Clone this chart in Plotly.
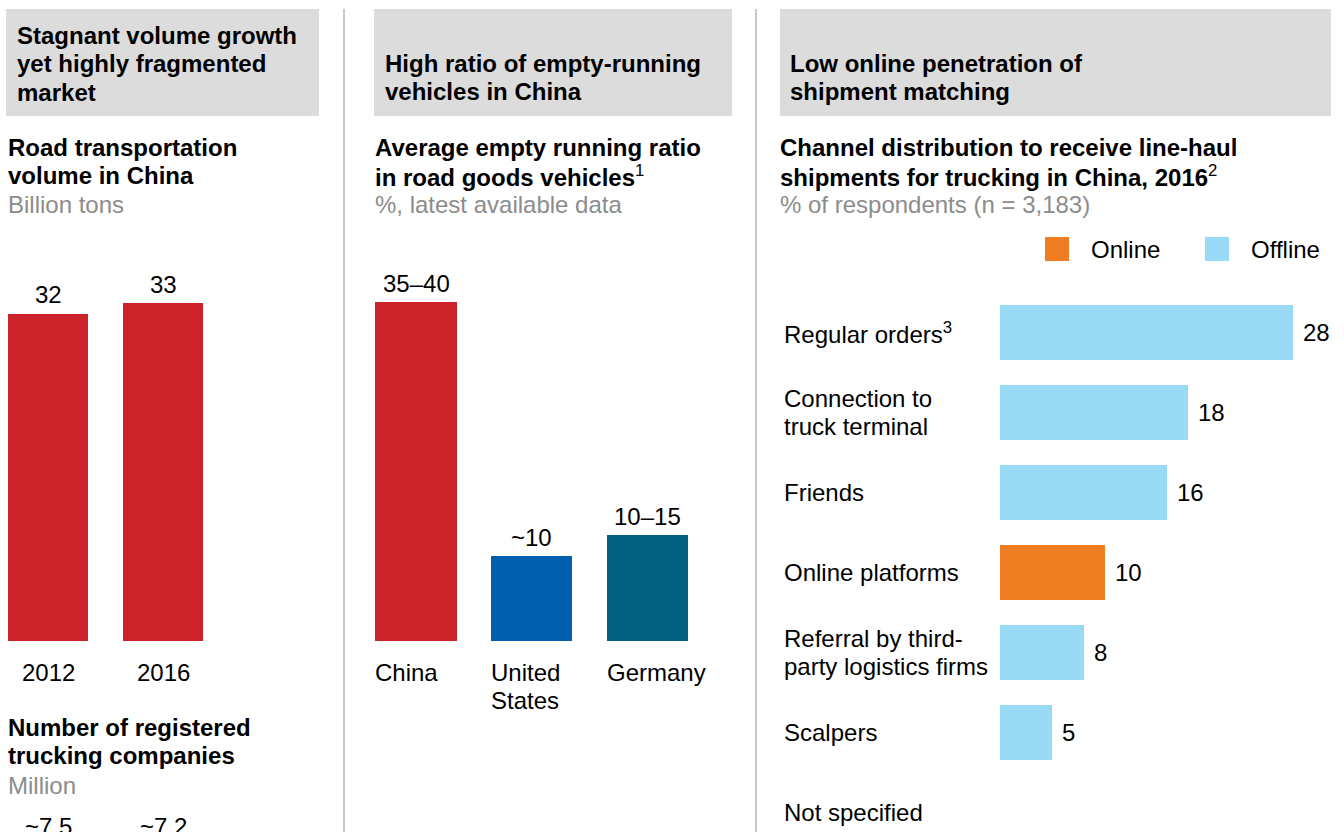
import plotly.graph_objects as go

W, H = 1344, 832
FONT = "Arial, 'Liberation Sans', sans-serif"

# ---- Panel 1: road transportation volume (billion tons) ----
volume_years = ["2012", "2016"]
volume_values = [32, 33]
volume_labels = ["32", "33"]

# Registered trucking companies (million)
company_values = [7.5, 7.2]
company_labels = ["~7.5", "~7.2"]

# ---- Panel 2: average empty running ratio (%) ----
ratio_countries = ["China", "United States", "Germany"]
ratio_tick_lines = [["China"], ["United", "States"], ["Germany"]]
ratio_values = [40, 10, 12.5]
ratio_labels = ["35–40", "~10", "10–15"]
ratio_colors = ["#CC2229", "#0060AE", "#02617E"]

# ---- Panel 3: channel distribution (% of respondents) ----
channel_keys = ["Regular orders", "Connection to truck terminal", "Friends",
                "Online platforms", "Referral by third-party logistics firms",
                "Scalpers", "Not specified"]
channel_tick_lines = [["Regular orders<sup>3</sup>"], ["Connection to", "truck terminal"],
                      ["Friends"], ["Online platforms"],
                      ["Referral by third-", "party logistics firms"],
                      ["Scalpers"], ["Not specified"]]
channel_values = [28, 18, 16, 10, 8, 5, None]
channel_type = ["Offline", "Offline", "Offline", "Online", "Offline", "Offline", None]
type_colors = {"Online": "#EF7D22", "Offline": "#99DBF5", None: "#FFFFFF"}

RED = "#CC2229"
GREY_BOX = "#DCDCDC"
GREY_TEXT = "#8C8C8C"
LINE_PITCH = 28.5


def px_x(x):
    return x / W


def px_y(y):
    return 1 - y / H


fig = go.Figure()

fig.add_trace(go.Bar(x=volume_years, y=volume_values, marker=dict(color=RED, line=dict(width=0)),
                     width=0.696, xaxis="x", yaxis="y", hoverinfo="skip"))
fig.add_trace(go.Bar(x=ratio_countries, y=ratio_values, marker=dict(color=ratio_colors, line=dict(width=0)),
                     width=0.70, xaxis="x2", yaxis="y2", hoverinfo="skip"))
fig.add_trace(go.Bar(y=channel_keys, x=channel_values, orientation="h",
                     marker=dict(color=[type_colors[t] for t in channel_type], line=dict(width=0)),
                     width=0.6875, xaxis="x3", yaxis="y3", hoverinfo="skip"))

ann = []
shapes = []


def text(x, y, t, size=24, bold=False, color="#000000", xanchor="left", xref="paper", yref="paper",
         xshift=0, yshift=0):
    ann.append(dict(x=x, y=y, xref=xref, yref=yref, text=f"<b>{t}</b>" if bold else t,
                    showarrow=False, xanchor=xanchor, yanchor="middle", xshift=xshift, yshift=yshift,
                    borderpad=0, borderwidth=0, font=dict(family=FONT, size=size, color=color)))


def text_block(x_px, y_px, lines, **kw):
    for i, line in enumerate(lines):
        text(px_x(x_px), px_y(y_px + i * LINE_PITCH), line, **kw)


# header boxes and dividers
for x0, x1 in [(6, 319), (374, 732), (780, 1331)]:
    shapes.append(dict(type="rect", xref="paper", yref="paper", x0=px_x(x0), x1=px_x(x1),
                       y0=px_y(116), y1=px_y(9), fillcolor=GREY_BOX, line=dict(width=0), layer="below"))
for xd in [344, 756]:
    shapes.append(dict(type="line", xref="paper", yref="paper", x0=px_x(xd), x1=px_x(xd),
                       y0=px_y(9), y1=px_y(832), line=dict(color="#C8C8C8", width=2)))

# headers
text_block(17, 35, ["Stagnant volume growth", "yet highly fragmented", "market"], bold=True)
text_block(385, 63, ["High ratio of empty-running", "vehicles in China"], bold=True)
text_block(790, 63, ["Low online penetration of", "shipment matching"], bold=True)

# chart titles
text_block(8, 147, ["Road transportation", "volume in China"], bold=True)
text_block(8, 204, ["Billion tons"], color=GREY_TEXT)
text_block(375, 147, ["<b>Average empty running ratio</b>", "<b>in road goods vehicles</b><sup>1</sup>"])
text_block(375, 204, ["%, latest available data"], color=GREY_TEXT)
text_block(780, 147, ["<b>Channel distribution to receive line-haul</b>",
                      "<b>shipments for trucking in China, 2016</b><sup>2</sup>"])
text_block(780, 204, ["% of respondents (n = 3,183)"], color=GREY_TEXT)
text_block(8, 727, ["Number of registered", "trucking companies"], bold=True)
text_block(8, 785, ["Million"], color=GREY_TEXT)

# panel 1 labels (category positions given by index)
for i, (yr, v, lab) in enumerate(zip(volume_years, volume_values, volume_labels)):
    text(i, v, lab, xanchor="center", xref="x", yref="y", yshift=19)
    text(i, px_y(672), yr, xanchor="center", xref="x")
for i, lab in enumerate(company_labels):
    text(i, px_y(826), lab, xanchor="center", xref="x")

# panel 2 labels
for i, (v, lab, lines) in enumerate(zip(ratio_values, ratio_labels, ratio_tick_lines)):
    text(i, v, lab, xanchor="center", xref="x2", yref="y2", yshift=19)
    for j, line in enumerate(lines):
        text(i - 0.35, px_y(672 + j * LINE_PITCH), line, xref="x2")

# panel 3 labels
for key, v, lines in zip(channel_keys, channel_values, channel_tick_lines):
    n = len(lines)
    for j, line in enumerate(lines):
        text(px_x(784), key, line, yref="y3", yshift=-(j - (n - 1) / 2) * LINE_PITCH)
    if v is not None:
        text(v, key, str(v), xref="x3", yref="y3", xshift=10)

# legend
for (x0, label) in [(1045, "Online"), (1205, "Offline")]:
    shapes.append(dict(type="rect", xref="paper", yref="paper", x0=px_x(x0), x1=px_x(x0 + 24),
                       y0=px_y(261), y1=px_y(237), fillcolor=type_colors[label], line=dict(width=0)))
    text(px_x(x0 + 46), px_y(250), label)

hidden = dict(visible=False, showgrid=False, zeroline=False, fixedrange=True)
ybot, ytop = 641, 230

fig.update_layout(
    width=W, height=H, margin=dict(l=0, r=0, t=0, b=0),
    paper_bgcolor="white", plot_bgcolor="white", showlegend=False,
    bargap=0, annotations=ann, shapes=shapes,
    xaxis=dict(hidden, type="category", domain=[0, px_x(300)],
               range=[-48 / 115, -48 / 115 + 300 / 115], anchor="y"),
    yaxis=dict(hidden, domain=[px_y(ybot), px_y(ytop)], range=[0, (ybot - ytop) / 10.23], anchor="x"),
    xaxis2=dict(hidden, type="category", domain=[px_x(350), px_x(750)],
                range=[(350 - 416) / 115.75, (750 - 416) / 115.75], anchor="y2"),
    yaxis2=dict(hidden, domain=[px_y(ybot), px_y(ytop)], range=[0, (ybot - ytop) / 8.475], anchor="x2"),
    xaxis3=dict(hidden, domain=[px_x(1000), 1], range=[0, 344 / 10.45], anchor="y3"),
    yaxis3=dict(hidden, type="category", domain=[0, px_y(280)],
                range=[(832 - 332.5) / 80, (280 - 332.5) / 80], anchor="x3"),
)

fig.write_html("out.html")
